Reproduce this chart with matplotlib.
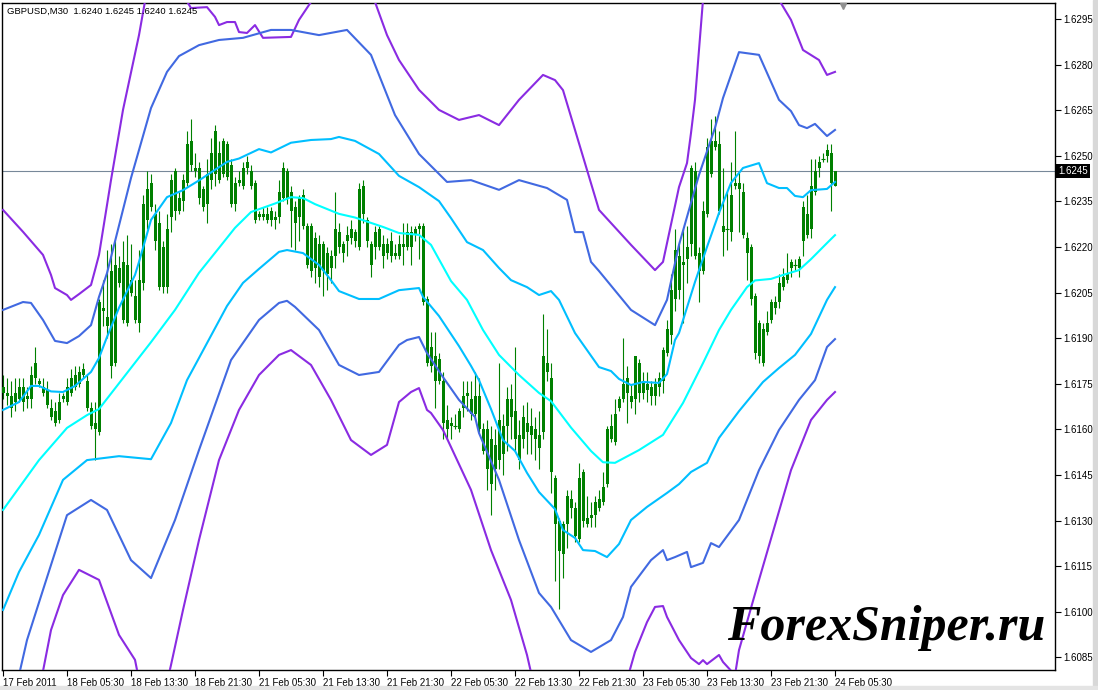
import matplotlib
matplotlib.use("Agg")
import matplotlib.pyplot as plt
from matplotlib.patches import Rectangle
import numpy as np

# GBPUSD M30 candles, 17 Feb 2011 21:30 -> 24 Feb 2011 05:30 (bar index 0..208)
opens = [1.6174, 1.6172, 1.6167, 1.6169, 1.6174, 1.6174, 1.6170, 1.6170, 1.6182, 1.6176,
         1.6174, 1.6173, 1.6167, 1.6162, 1.6163, 1.6170, 1.6169, 1.6172, 1.6174, 1.6175,
         1.6180, 1.6176, 1.6167, 1.6160, 1.6159, 1.6200, 1.6194, 1.6181, 1.6182, 1.6213,
         1.6215, 1.6195, 1.6209, 1.6196, 1.6195, 1.6208, 1.6229, 1.6241, 1.6231, 1.6228,
         1.6207, 1.6207, 1.6230, 1.6245, 1.6232, 1.6235, 1.6241, 1.6255, 1.6246, 1.6246,
         1.6233, 1.6234, 1.6242, 1.6258, 1.6242, 1.6255, 1.6254, 1.6247, 1.6234, 1.6241,
         1.6240, 1.6248, 1.6245, 1.6241, 1.6230, 1.6231, 1.6229, 1.6232, 1.6229, 1.6230,
         1.6246, 1.6245, 1.6238, 1.6228, 1.6236, 1.6237, 1.6227, 1.6227, 1.6223, 1.6210,
         1.6221, 1.6211, 1.6213, 1.6217, 1.6225, 1.6218, 1.6222, 1.6226, 1.6222, 1.6220,
         1.6240, 1.6229, 1.6214, 1.6220, 1.6226, 1.6217, 1.6221, 1.6222, 1.6217, 1.6217,
         1.6220, 1.6220, 1.6220, 1.6224, 1.6227, 1.6227, 1.6203, 1.6187, 1.6184, 1.6183,
         1.6176, 1.6163, 1.6162, 1.6161, 1.6160, 1.6167, 1.6172, 1.6165, 1.6171, 1.6171,
         1.6160, 1.6160, 1.6142, 1.6147, 1.6150, 1.6152, 1.6161, 1.6170, 1.6166, 1.6150,
         1.6157, 1.6162, 1.6161, 1.6160, 1.6154, 1.6159, 1.6182, 1.6177, 1.6144, 1.6120,
         1.6119, 1.6129, 1.6137, 1.6125, 1.6124, 1.6146, 1.6129, 1.6131, 1.6132, 1.6134,
         1.6136, 1.6142, 1.6157, 1.6156, 1.6167, 1.6170, 1.6177, 1.6169, 1.6170, 1.6182,
         1.6172, 1.6175, 1.6171, 1.6171, 1.6174, 1.6176, 1.6185, 1.6191, 1.6219, 1.6206,
         1.6214, 1.6216, 1.6246, 1.6245, 1.6212, 1.6212, 1.6231, 1.6244, 1.6255, 1.6254,
         1.6227, 1.6226, 1.6225, 1.6241, 1.6241, 1.6238, 1.6223, 1.6220, 1.6204, 1.6195,
         1.6182, 1.6192, 1.6196, 1.6200, 1.6202, 1.6207, 1.6209, 1.6213, 1.6214, 1.6213,
         1.6222, 1.6224, 1.6226, 1.6238, 1.6246, 1.6249, 1.6252, 1.6251, 1.6240]
highs = [1.6178, 1.6177, 1.6176, 1.6177, 1.6177, 1.6177, 1.6174, 1.6181, 1.6187, 1.6177,
         1.6177, 1.6176, 1.6170, 1.6169, 1.6172, 1.6172, 1.6177, 1.6180, 1.6181, 1.6181,
         1.6182, 1.6178, 1.6169, 1.6169, 1.6203, 1.6209, 1.6219, 1.6221, 1.6222, 1.6217,
         1.6222, 1.6224, 1.6221, 1.6209, 1.6219, 1.6237, 1.6245, 1.6244, 1.6234, 1.6232,
         1.6222, 1.6231, 1.6244, 1.6246, 1.6238, 1.6244, 1.6258, 1.6262, 1.6251, 1.6248,
         1.6240, 1.6249, 1.6256, 1.6260, 1.6255, 1.6256, 1.6255, 1.6249, 1.6243, 1.6245,
         1.6248, 1.6250, 1.6247, 1.6242, 1.6232, 1.6233, 1.6233, 1.6233, 1.6232, 1.6242,
         1.6248, 1.6246, 1.6240, 1.6235, 1.6237, 1.6239, 1.6228, 1.6228, 1.6225, 1.6224,
         1.6222, 1.6220, 1.6219, 1.6238, 1.6228, 1.6222, 1.6227, 1.6229, 1.6226, 1.6241,
         1.6242, 1.6230, 1.6222, 1.6227, 1.6227, 1.6224, 1.6223, 1.6225, 1.6221, 1.6224,
         1.6228, 1.6228, 1.6227, 1.6227, 1.6228, 1.6228, 1.6204, 1.6192, 1.6192, 1.6185,
         1.6179, 1.6168, 1.6164, 1.6165, 1.6167, 1.6176, 1.6176, 1.6176, 1.6179, 1.6177,
         1.6162, 1.6163, 1.6161, 1.6160, 1.6182, 1.6165, 1.6174, 1.6175, 1.6187, 1.6163,
         1.6168, 1.6169, 1.6167, 1.6164, 1.6166, 1.6198, 1.6193, 1.6182, 1.6145, 1.6131,
         1.6130, 1.6140, 1.6140, 1.6136, 1.6149, 1.6147, 1.6138, 1.6136, 1.6138, 1.6140,
         1.6146, 1.6161, 1.6165, 1.6170, 1.6171, 1.6190, 1.6181, 1.6175, 1.6184, 1.6183,
         1.6179, 1.6179, 1.6176, 1.6177, 1.6179, 1.6187, 1.6196, 1.6211, 1.6226, 1.6222,
         1.6226, 1.6227, 1.6247, 1.6248, 1.6220, 1.6235, 1.6256, 1.6262, 1.6263, 1.6258,
         1.6246, 1.6238, 1.6248, 1.6258, 1.6245, 1.6241, 1.6225, 1.6221, 1.6205, 1.6196,
         1.6195, 1.6199, 1.6203, 1.6204, 1.6211, 1.6213, 1.6218, 1.6216, 1.6216, 1.6217,
         1.6235, 1.6237, 1.6249, 1.6249, 1.6250, 1.6251, 1.6254, 1.6254, 1.6245]
lows = [1.6170, 1.6168, 1.6164, 1.6166, 1.6169, 1.6166, 1.6167, 1.6167, 1.6175, 1.6174,
        1.6171, 1.6167, 1.6163, 1.6161, 1.6162, 1.6169, 1.6168, 1.6171, 1.6173, 1.6174,
        1.6177, 1.6166, 1.6160, 1.6150, 1.6158, 1.6194, 1.6190, 1.6177, 1.6181, 1.6207,
        1.6195, 1.6194, 1.6204, 1.6195, 1.6192, 1.6206, 1.6226, 1.6232, 1.6219, 1.6206,
        1.6205, 1.6205, 1.6225, 1.6229, 1.6231, 1.6232, 1.6240, 1.6245, 1.6243, 1.6234,
        1.6232, 1.6228, 1.6239, 1.6240, 1.6241, 1.6243, 1.6242, 1.6233, 1.6232, 1.6240,
        1.6239, 1.6244, 1.6239, 1.6228, 1.6229, 1.6229, 1.6228, 1.6227, 1.6226, 1.6228,
        1.6235, 1.6234, 1.6220, 1.6219, 1.6222, 1.6226, 1.6213, 1.6210, 1.6208, 1.6207,
        1.6204, 1.6206, 1.6208, 1.6213, 1.6218, 1.6215, 1.6217, 1.6221, 1.6220, 1.6219,
        1.6228, 1.6220, 1.6210, 1.6216, 1.6219, 1.6213, 1.6216, 1.6215, 1.6216, 1.6216,
        1.6214, 1.6219, 1.6214, 1.6222, 1.6216, 1.6201, 1.6181, 1.6179, 1.6167, 1.6175,
        1.6157, 1.6157, 1.6157, 1.6160, 1.6159, 1.6164, 1.6166, 1.6163, 1.6163, 1.6159,
        1.6152, 1.6140, 1.6132, 1.6140, 1.6147, 1.6145, 1.6153, 1.6157, 1.6153, 1.6147,
        1.6154, 1.6152, 1.6152, 1.6150, 1.6147, 1.6157, 1.6176, 1.6139, 1.6110, 1.6101,
        1.6111, 1.6121, 1.6131, 1.6123, 1.6123, 1.6128, 1.6128, 1.6128, 1.6128, 1.6133,
        1.6135, 1.6141, 1.6156, 1.6155, 1.6166, 1.6169, 1.6162, 1.6167, 1.6165, 1.6169,
        1.6170, 1.6169, 1.6168, 1.6168, 1.6171, 1.6172, 1.6184, 1.6188, 1.6199, 1.6203,
        1.6195, 1.6208, 1.6217, 1.6216, 1.6202, 1.6211, 1.6230, 1.6243, 1.6252, 1.6231,
        1.6217, 1.6219, 1.6222, 1.6239, 1.6225, 1.6223, 1.6209, 1.6201, 1.6183, 1.6182,
        1.6181, 1.6191, 1.6195, 1.6198, 1.6200, 1.6206, 1.6208, 1.6210, 1.6212, 1.6210,
        1.6217, 1.6223, 1.6223, 1.6237, 1.6243, 1.6248, 1.6248, 1.6232, 1.6240]
closes = [1.6172, 1.6171, 1.6171, 1.6172, 1.6170, 1.6169, 1.6171, 1.6178, 1.6177, 1.6175,
          1.6172, 1.6168, 1.6164, 1.6166, 1.6169, 1.6171, 1.6174, 1.6177, 1.6178, 1.6179,
          1.6178, 1.6167, 1.6161, 1.6162, 1.6202, 1.6199, 1.6197, 1.6212, 1.6214, 1.6208,
          1.6196, 1.6214, 1.6205, 1.6204, 1.6209, 1.6234, 1.6239, 1.6233, 1.6222, 1.6207,
          1.6220, 1.6226, 1.6242, 1.6232, 1.6236, 1.6242, 1.6254, 1.6247, 1.6245, 1.6236,
          1.6239, 1.6244, 1.6251, 1.6244, 1.6251, 1.6244, 1.6243, 1.6234, 1.6241, 1.6242,
          1.6246, 1.6246, 1.6240, 1.6229, 1.6231, 1.6230, 1.6231, 1.6229, 1.6230, 1.6238,
          1.6236, 1.6236, 1.6232, 1.6233, 1.6230, 1.6227, 1.6214, 1.6212, 1.6213, 1.6221,
          1.6212, 1.6218, 1.6217, 1.6226, 1.6220, 1.6221, 1.6224, 1.6223, 1.6225, 1.6239,
          1.6231, 1.6222, 1.6221, 1.6225, 1.6220, 1.6221, 1.6218, 1.6217, 1.6218, 1.6221,
          1.6221, 1.6225, 1.6225, 1.6226, 1.6226, 1.6202, 1.6182, 1.6181, 1.6176, 1.6176,
          1.6162, 1.6160, 1.6161, 1.6161, 1.6166, 1.6171, 1.6171, 1.6170, 1.6165, 1.6160,
          1.6153, 1.6147, 1.6157, 1.6155, 1.6163, 1.6161, 1.6170, 1.6164, 1.6157, 1.6158,
          1.6164, 1.6159, 1.6158, 1.6157, 1.6158, 1.6184, 1.6179, 1.6146, 1.6129, 1.6130,
          1.6129, 1.6138, 1.6134, 1.6134, 1.6144, 1.6130, 1.6131, 1.6132, 1.6136, 1.6137,
          1.6141, 1.6160, 1.6161, 1.6165, 1.6170, 1.6175, 1.6172, 1.6171, 1.6184, 1.6172,
          1.6176, 1.6173, 1.6174, 1.6175, 1.6177, 1.6186, 1.6193, 1.6206, 1.6203, 1.6217,
          1.6215, 1.6220, 1.6221, 1.6217, 1.6218, 1.6232, 1.6253, 1.6255, 1.6253, 1.6232,
          1.6225, 1.6226, 1.6237, 1.6240, 1.6239, 1.6224, 1.6218, 1.6203, 1.6185, 1.6184,
          1.6193, 1.6195, 1.6202, 1.6202, 1.6208, 1.6210, 1.6211, 1.6215, 1.6214, 1.6216,
          1.6233, 1.6231, 1.6240, 1.6245, 1.6248, 1.6249, 1.6250, 1.6241, 1.6245]

# band indicator lines, read at selected bars
mid_x = [0, 9, 16, 21, 24, 37, 43, 49, 54, 58, 62, 68, 72, 75, 78, 84, 88, 95, 99, 104,
         107, 112, 116, 120, 124, 129, 134, 137, 142, 147, 150, 153, 159, 165, 170, 175,
         179, 182, 186, 188, 192, 195, 199, 202, 206, 208]
mid_y = [1.61335, 1.61499, 1.61605, 1.61647, 1.61667, 1.61887, 1.61993, 1.62115, 1.62197,
         1.62263, 1.62315, 1.62343, 1.62364, 1.62361, 1.62341, 1.62309, 1.62297, 1.62266,
         1.62246, 1.62240, 1.62207, 1.62088, 1.62026, 1.61927, 1.61845, 1.61779, 1.61720,
         1.61693, 1.61606, 1.61529, 1.61492, 1.61490, 1.61532, 1.61582, 1.61687, 1.61818,
         1.61927, 1.61993, 1.62068, 1.62090, 1.62095, 1.62108, 1.62124, 1.62160, 1.62213,
         1.62239]

sky_up_x = [0, 4, 7, 9, 12, 15, 18, 22, 24, 26, 29, 33, 34, 37, 41, 45, 49, 56, 59, 64,
            67, 72, 77, 82, 84, 88, 94, 99, 104, 109, 112, 116, 120, 124, 127, 131, 134,
            137, 139, 143, 146, 149, 152, 154, 157, 160, 164, 166, 168, 169, 173, 176, 179,
            182, 185, 189, 191, 194, 196, 198, 200, 202, 206, 208]
sky_up_y = [1.61664, 1.61690, 1.61743, 1.61743, 1.61725, 1.61723, 1.61743, 1.61789, 1.61835,
            1.61904, 1.62000, 1.62108, 1.62151, 1.62289, 1.62364, 1.62387, 1.62419, 1.62480,
            1.62491, 1.62522, 1.62511, 1.62543, 1.62552, 1.62555, 1.62562, 1.62549, 1.62506,
            1.62434, 1.62397, 1.62351, 1.62295, 1.62216, 1.62190, 1.62131, 1.62091, 1.62068,
            1.62042, 1.62055, 1.62026, 1.61917, 1.61861, 1.61805, 1.61792, 1.61766, 1.61746,
            1.61756, 1.61753, 1.61782, 1.61894, 1.61917, 1.62085, 1.62200, 1.62312, 1.62411,
            1.62460, 1.62476, 1.62410, 1.62394, 1.62394, 1.62368, 1.62364, 1.62387, 1.62391,
            1.62414]

sky_lo_x = [0, 4, 9, 15, 21, 29, 37, 42, 46, 49, 56, 60, 64, 69, 71, 75, 79, 82, 84, 89,
            94, 99, 104, 105, 109, 114, 117, 119, 122, 125, 128, 131, 134, 138, 140, 143,
            145, 148, 151, 154, 157, 161, 166, 169, 172, 176, 179, 184, 190, 194, 198, 202,
            206, 208]
sky_lo_y = [1.61006, 1.61131, 1.61253, 1.61434, 1.61499, 1.61512, 1.61502, 1.61621, 1.61762,
            1.61835, 1.62006, 1.62082, 1.62128, 1.62184, 1.62190, 1.62180, 1.62141, 1.62091,
            1.62055, 1.62029, 1.62029, 1.62058, 1.62065, 1.62036, 1.61973, 1.61874, 1.61809,
            1.61762, 1.61667, 1.61565, 1.61529, 1.61457, 1.61394, 1.61338, 1.61269, 1.61243,
            1.61203, 1.61200, 1.61180, 1.61223, 1.61302, 1.61345, 1.61391, 1.61420, 1.61460,
            1.61490, 1.61572, 1.61660, 1.61756, 1.61802, 1.61845, 1.61914, 1.62026, 1.62068]

blue_up_x = [0, 5, 7, 10, 13, 16, 19, 22, 24, 26, 32, 37, 41, 44, 49, 54, 60, 67, 72, 79,
             86, 92, 98, 104, 111, 117, 124, 129, 136, 141, 143, 145, 147, 149, 157, 163,
             166, 169, 174, 178, 180, 184, 189, 194, 197, 199, 201, 203, 206, 208]
blue_up_y = [1.61993, 1.62019, 1.62016, 1.61960, 1.61891, 1.61884, 1.61907, 1.61943, 1.62036,
             1.62114, 1.62427, 1.62657, 1.62776, 1.62828, 1.62864, 1.62881, 1.62888, 1.62914,
             1.62914, 1.62897, 1.62914, 1.62832, 1.62634, 1.62506, 1.62414, 1.62420, 1.62388,
             1.62420, 1.62394, 1.62355, 1.62249, 1.62249, 1.62151, 1.62121, 1.61993, 1.61943,
             1.62026, 1.62207, 1.62437, 1.62592, 1.62690, 1.62841, 1.62832, 1.62684, 1.62647,
             1.62601, 1.62591, 1.62605, 1.62565, 1.62585]

blue_lo_x = [0, 4, 6, 10, 16, 22, 26, 32, 37, 43, 49, 57, 64, 69, 71, 73, 79, 84, 89, 94,
             99, 101, 104, 106, 110, 114, 118, 119, 124, 129, 134, 137, 142, 147, 152, 155,
             157, 162, 165, 166, 168, 171, 172, 175, 177, 179, 184, 189, 194, 199, 203, 206,
             208]
blue_lo_y = [1.60644, 1.60792, 1.60907, 1.61072, 1.61318, 1.61368, 1.61335, 1.61170, 1.61111,
             1.61302, 1.61532, 1.61828, 1.61960, 1.62016, 1.62023, 1.62003, 1.61927, 1.61812,
             1.61779, 1.61789, 1.61878, 1.61894, 1.61904, 1.61851, 1.61772, 1.61697, 1.61641,
             1.61588, 1.61434, 1.61236, 1.61062, 1.61016, 1.60907, 1.60868, 1.60907, 1.60983,
             1.61082, 1.61170, 1.61203, 1.61170, 1.61180, 1.61197, 1.61147, 1.61161, 1.61226,
             1.61213, 1.61302, 1.61466, 1.61598, 1.61697, 1.61762, 1.61871, 1.61897]

violet_up_x = [0, 5, 10, 12, 13, 16, 17, 19, 22, 23, 24, 27, 30, 34, 36, 42, 47, 51, 53, 54,
               56, 58, 59, 61, 63, 65, 72, 74, 77, 80, 88, 93, 96, 99, 104, 109, 114, 119,
               124, 129, 135, 138, 140, 143, 149, 157, 163, 165, 169, 171, 172, 173, 175, 178,
               185, 194, 197, 200, 204, 206, 208]
violet_up_y = [1.62322, 1.62250, 1.62174, 1.62108, 1.62065, 1.62042, 1.62026, 1.62045, 1.62075,
               1.62124, 1.62174, 1.62420, 1.62651, 1.62897, 1.63045, 1.63095, 1.62986, 1.62989,
               1.62957, 1.62930, 1.62940, 1.62940, 1.62907, 1.62904, 1.62930, 1.62888, 1.62891,
               1.62947, 1.63006, 1.63062, 1.63078, 1.63006, 1.62897, 1.62815, 1.62717, 1.62651,
               1.62618, 1.62634, 1.62601, 1.62684, 1.62766, 1.62749, 1.62716, 1.62585, 1.62322,
               1.62207, 1.62124, 1.62151, 1.62397, 1.62476, 1.62575, 1.62684, 1.63013, 1.63144,
               1.63144, 1.63013, 1.62947, 1.62848, 1.62815, 1.62766, 1.62776]

violet_lo_x = [9, 10, 12, 15, 19, 24, 29, 33, 35, 40, 42, 45, 49, 54, 59, 64, 69, 72, 77, 82,
               87, 92, 96, 99, 102, 104, 106, 107, 110, 112, 117, 122, 127, 131, 133, 140, 150,
               156, 158, 161, 163, 165, 166, 169, 172, 174, 175, 176, 179, 180, 183, 184, 189,
               197, 202, 206, 208]
violet_lo_y = [1.60710, 1.60805, 1.60940, 1.61055, 1.61138, 1.61105, 1.60924, 1.60842, 1.60710,
               1.60710, 1.60825, 1.61006, 1.61236, 1.61499, 1.61664, 1.61779, 1.61845, 1.61861,
               1.61812, 1.61697, 1.61565, 1.61516, 1.61549, 1.61690, 1.61723, 1.61736, 1.61664,
               1.61654, 1.61598, 1.61542, 1.61401, 1.61203, 1.61039, 1.60858, 1.60743, 1.60644,
               1.60644, 1.60776, 1.60868, 1.60966, 1.61016, 1.61019, 1.60983, 1.60907, 1.60848,
               1.60828, 1.60841, 1.60828, 1.60858, 1.60835, 1.60792, 1.60874, 1.61105, 1.61466,
               1.61631, 1.61697, 1.61723]

time_ticks = [0, 16, 32, 48, 64, 80, 96, 112, 128, 144, 160, 176, 192, 208]
time_labels = ["17 Feb 2011", "18 Feb 05:30", "18 Feb 13:30", "18 Feb 21:30",
               "21 Feb 05:30", "21 Feb 13:30", "21 Feb 21:30", "22 Feb 05:30",
               "22 Feb 13:30", "22 Feb 21:30", "23 Feb 05:30", "23 Feb 13:30",
               "23 Feb 21:30", "24 Feb 05:30"]
price_ticks = [1.6085, 1.6100, 1.6115, 1.6130, 1.6145, 1.6160, 1.6175, 1.6190,
               1.6205, 1.6220, 1.6235, 1.6250, 1.6265, 1.6280, 1.6295]
last_price = 1.6245
title = "GBPUSD,M30  1.6240 1.6245 1.6240 1.6245"

GREEN = "#008000"
small = dict(family="Liberation Sans", size=7)

fig = plt.figure(figsize=(10.98, 6.9), dpi=100)
fig.patch.set_facecolor("white")
ax = fig.add_axes([2 / 1098, 20 / 690, 1053 / 1098, 667 / 690])

o = np.array(opens)
h = np.array(highs)
l = np.array(lows)
c = np.array(closes)
x = np.arange(len(o))
top = np.maximum(o, c)
bot = np.minimum(o, c)
flat = (top - bot) < 1e-7

ax.axhline(last_price, color="#778899", lw=0.8, zorder=1)
ax.vlines(x, l, h, color=GREEN, lw=0.8, zorder=2)
ax.bar(x[~flat], (top - bot)[~flat], bottom=bot[~flat], width=0.75,
       color=GREEN, linewidth=0, zorder=3)
ax.hlines(c[flat], x[flat] - 0.4, x[flat] + 0.4, color=GREEN, lw=0.8, zorder=3)

lw = 1.5
ax.plot(violet_up_x, violet_up_y, color="#8A2BE2", lw=lw, zorder=4)
ax.plot(violet_lo_x, violet_lo_y, color="#8A2BE2", lw=lw, zorder=4)
ax.plot(blue_up_x, blue_up_y, color="#4169E1", lw=lw, zorder=4)
ax.plot(blue_lo_x, blue_lo_y, color="#4169E1", lw=lw, zorder=4)
ax.plot(sky_up_x, sky_up_y, color="#00BFFF", lw=lw, zorder=4)
ax.plot(sky_lo_x, sky_lo_y, color="#00BFFF", lw=lw, zorder=4)
ax.plot(mid_x, mid_y, color="#00FFFF", lw=lw, zorder=4)

ax.set_xlim(-0.25, 263)
ax.set_ylim(1.608086, 1.630026)

ax.yaxis.tick_right()
ax.set_yticks(price_ticks)
ax.set_yticklabels([f"{p:.4f}" for p in price_ticks], fontdict=small)
ax.set_xticks(time_ticks)
ax.set_xticklabels(time_labels, fontdict=small, ha="left")
ax.tick_params(axis="both", direction="out", length=4, width=0.8, color="black", pad=2)
for s in ax.spines.values():
    s.set_color("black")
    s.set_linewidth(1)

ax.text(1.003, last_price, f"{last_price:.4f}", transform=ax.get_yaxis_transform(),
        color="white", va="center", ha="left", fontdict=small,
        bbox=dict(facecolor="black", edgecolor="none", pad=1.4))

fig.text(7 / 1098, 1 - 11 / 690, title, va="center", ha="left",
         family="Liberation Sans", size=6.8)
fig.text(727 / 1098, 1 - 640 / 690, "ForexSniper.ru", family="Liberation Serif",
         weight="bold", style="italic", size=36, color="black", va="baseline")

ax.plot([(843 - 3) / 4], [1.0 - 3 / 667], marker="v", ms=5, color="#909090",
        transform=ax.get_xaxis_transform(), clip_on=False, zorder=5)

fig.patches.append(Rectangle((1093 / 1098, 0), 5 / 1098, 1, transform=fig.transFigure,
                             color="#d8d8d8", zorder=0))
fig.patches.append(Rectangle((0, 0), 1, 4 / 690, transform=fig.transFigure,
                             color="#e4e4e4", zorder=0))

fig.savefig("out.png", dpi=100)
